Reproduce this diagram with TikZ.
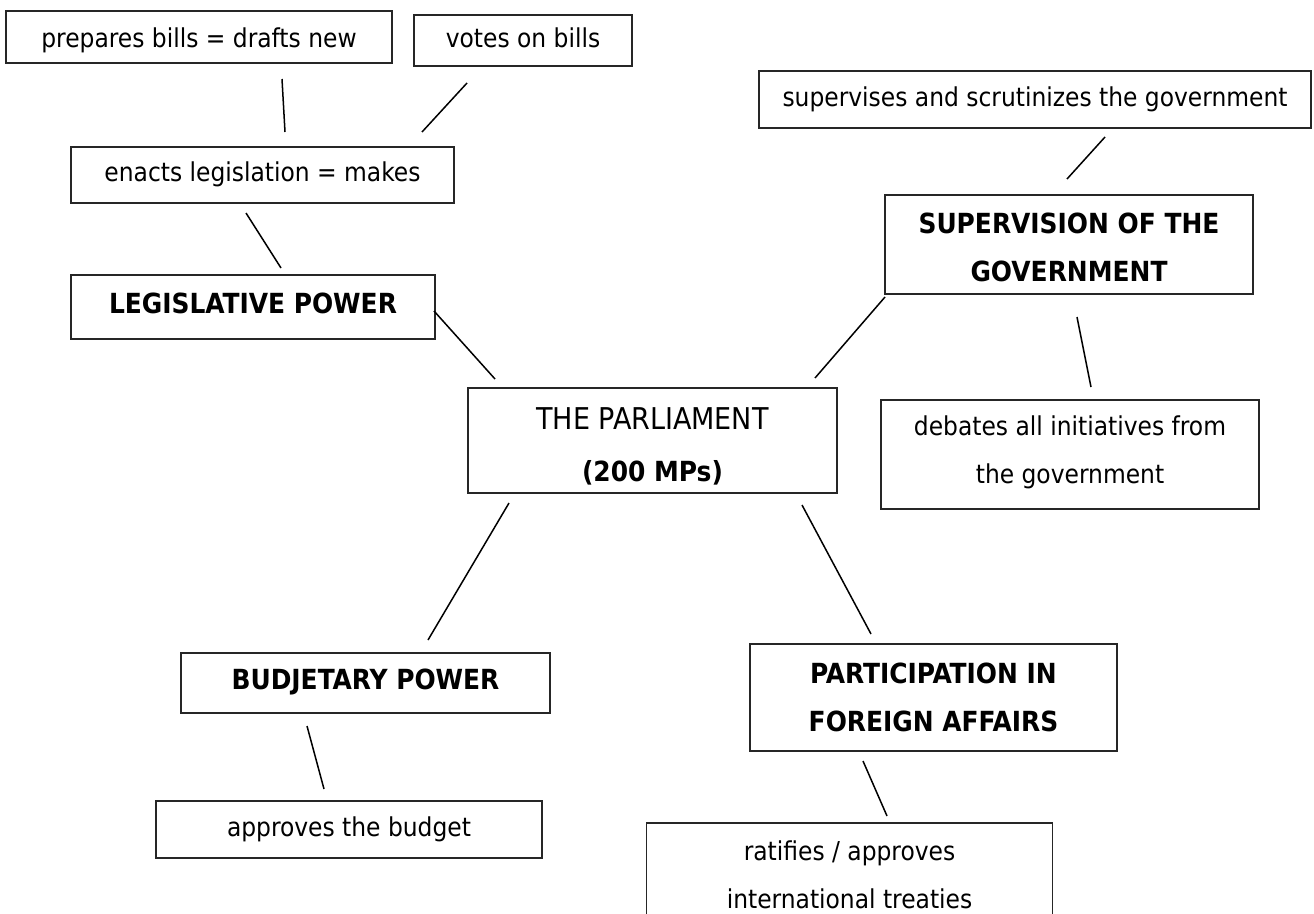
\documentclass[tikz,border=0pt]{standalone}
\usepackage{fontspec}
\setmainfont{DejaVu Sans Condensed}
\newcommand\boldtxt{\bfseries\fontsize{27.7}{48}\selectfont}
\begin{document}
\begin{tikzpicture}[x=1pt,y=-1pt,
  box/.style={draw=black!85, line width=1.2pt, inner sep=0pt, align=center,
    font=\fontsize{26}{48}\selectfont},
  one/.style={text height=19pt, text depth=6pt},
  link/.style={line width=1.5pt, line cap=butt}]
\clip (0,0) rectangle (1314,913);
\fill[white] (0,0) rectangle (1314,913);

% boxes
\node[box, one, text height=27pt, minimum width=386pt, minimum height=52pt] (prep) at (199,37) {prepares bills = drafts new};
\node[box, one, minimum width=218pt, minimum height=51pt] (votes) at (523,40.5) {votes on bills};
\node[box, one, minimum width=383pt, minimum height=56pt] (enact) at (262.5,175) {enacts legislation = makes};
\node[box, one, minimum width=364pt, minimum height=64pt] (legis) at (253,307) {\boldtxt LEGISLATIVE POWER};
\node[box, one, minimum width=552pt, minimum height=57pt] (superv) at (1035,99.5) {supervises and scrutinizes the government};
\node[box, text height=79pt, text depth=6pt, minimum width=368pt, minimum height=99pt] (supgov) at (1069,244.5) {\boldtxt SUPERVISION OF THE\\\boldtxt GOVERNMENT};
\node[box, text height=87pt, text depth=6pt, minimum width=369pt, minimum height=105pt, font=\fontsize{26}{52}\selectfont] (parl) at (652.5,440.5) {{\fontsize{30}{52}\selectfont THE PARLIAMENT}\\{\bfseries\fontsize{27.7}{52}\selectfont (200 MPs)}};
\node[box, text height=67pt, text depth=10pt, minimum width=378pt, minimum height=109pt] (debates) at (1070,454.5) {debates all initiatives from\\the government};
\node[box, one, minimum width=369pt, minimum height=60pt] (budget) at (365.5,683) {\boldtxt BUDJETARY POWER};
\node[box, one, minimum width=386pt, minimum height=57pt] (approve) at (349,829.5) {approves the budget};
\node[box, text height=73pt, text depth=6pt, minimum width=367pt, minimum height=107pt] (foreign) at (933.5,697.5) {\boldtxt PARTICIPATION IN\\\boldtxt FOREIGN AFFAIRS};
\node[box, text height=67pt, text depth=6pt, minimum width=406pt, minimum height=109pt] (ratify) at (849.5,877.5) {ratifies / approves\\international treaties};

% connector ends
\coordinate (c1a) at (282,79);   \coordinate (c1b) at (285,132);
\coordinate (c2a) at (467,83);   \coordinate (c2b) at (422,132);
\coordinate (c3a) at (246,213);  \coordinate (c3b) at (281,268);
\coordinate (c4a) at (434,311);  \coordinate (c4b) at (495,379);
\coordinate (c5a) at (1105,137); \coordinate (c5b) at (1067,179);
\coordinate (c6a) at (885,297);  \coordinate (c6b) at (815,378);
\coordinate (c7a) at (1077,317); \coordinate (c7b) at (1091,387);
\coordinate (c8a) at (509,503);  \coordinate (c8b) at (428,640);
\coordinate (c9a) at (802,505);  \coordinate (c9b) at (871,634);
\coordinate (c10a) at (307,726); \coordinate (c10b) at (324,789);
\coordinate (c11a) at (863,761); \coordinate (c11b) at (887,816);

\draw[link] (c1a) -- (c1b);
\draw[link] (c2a) -- (c2b);
\draw[link] (c3a) -- (c3b);
\draw[link] (c4a) -- (c4b);
\draw[link] (c5a) -- (c5b);
\draw[link] (c6a) -- (c6b);
\draw[link] (c7a) -- (c7b);
\draw[link] (c8a) -- (c8b);
\draw[link] (c9a) -- (c9b);
\draw[link] (c10a) -- (c10b);
\draw[link] (c11a) -- (c11b);
\end{tikzpicture}
\end{document}
